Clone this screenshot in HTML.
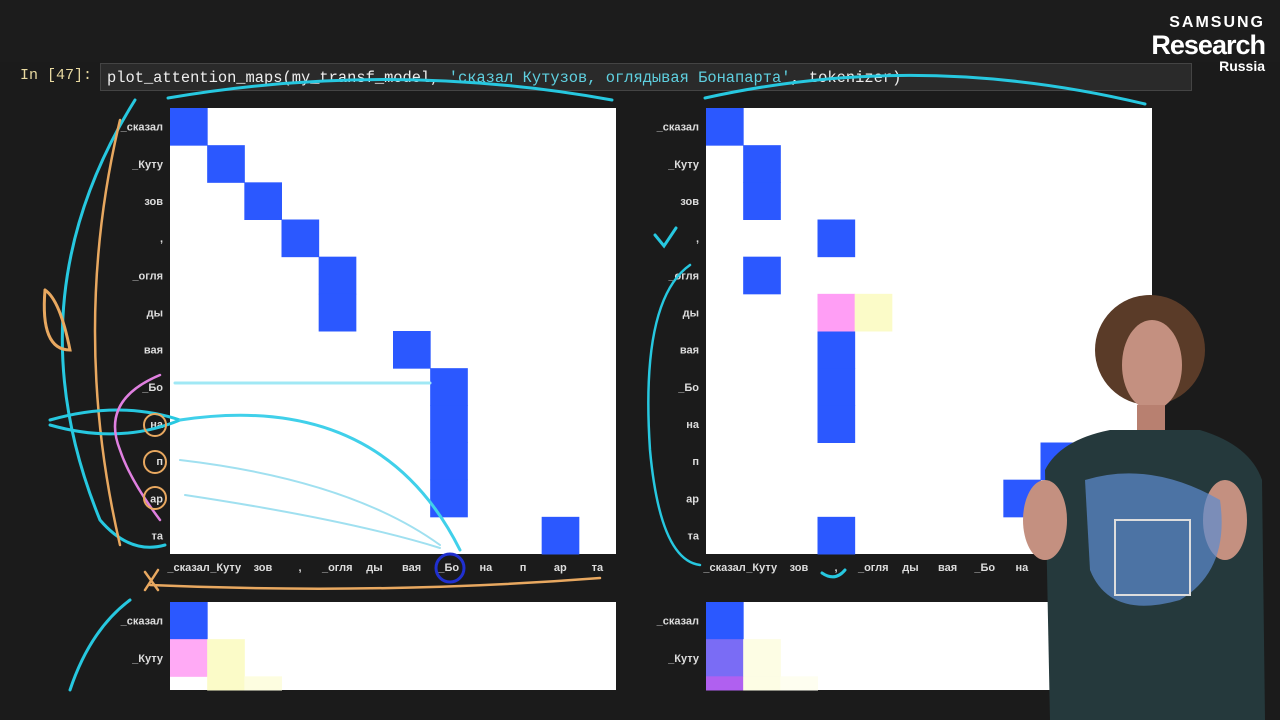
<!DOCTYPE html>
<html><head><meta charset="utf-8"><style>
body{margin:0;width:1280px;height:720px;background:#1b1b1b;overflow:hidden;position:relative;font-family:"Liberation Mono",monospace}
.abs{position:absolute}
</style></head><body>
<div class="abs" style="left:0;top:0;width:1280px;height:62px;background:#1c1c1c"></div>
<div class="abs" style="left:1140px;top:14px;width:125px;color:#fff;font-family:'Liberation Sans',sans-serif;text-align:right">
<div style="font-size:16px;font-weight:bold;letter-spacing:2px">SAMSUNG</div>
<div style="font-size:27px;font-weight:bold;line-height:26px;letter-spacing:-1px">Research</div>
<div style="font-size:14px;font-weight:bold">Russia</div></div>
<div class="abs" style="left:20px;top:67px;color:#e8d9a0;font-size:15px">In [47]:</div>
<div class="abs" style="left:100px;top:63px;width:1092px;height:28px;background:#2a2a2a;border:1px solid #444;color:#eee;font-size:15.4px;line-height:28px;padding-left:6px;box-sizing:border-box">plot_attention_maps(my_transf_model, <span style="color:#5fd0e0">'сказал Кутузов, оглядывая Бонапарта'</span>, tokenizer)</div>
<svg class="abs" id="chart" style="left:0;top:0" width="1280" height="720" font-family="Liberation Sans, DejaVu Sans, sans-serif"></svg>
<script>
const tokens=["_сказал","_Куту","зов",",","_огля","ды","вая","_Бо","на","п","ар","та"];
const leftCells=[[0,0],[1,1],[2,2],[3,3],[4,4],[5,4],[6,6],[7,7],[8,7],[9,7],[10,7],[11,10]];
const rightCells=[[0,0],[1,1],[2,1],[3,3],[4,1],[6,3],[7,3],[8,3],[9,9],[10,8],[11,3]];
const rightPink=[[5,3]];
const rightYellow=[[5,4]];
const bl1Cells=[[0,0,"#2b58ff"],[1,0,"#ffaaf5"],[1,1,"#fbfbc8"],[2,1,"#fbfbc8"],[2,2,"#fdfde0"]];
const bl2Cells=[[0,0,"#2b58ff"],[1,0,"#7a6cf5"],[1,1,"#fdfde4"],[2,0,"#b060f0"],[2,1,"#fdfde4"],[2,2,"#fefef0"]];
const NS="http://www.w3.org/2000/svg";
const svg=document.getElementById("chart");
function mk(t,a,p){const e=document.createElementNS(NS,t);for(const k in a)e.setAttribute(k,a[k]);(p||svg).appendChild(e);return e;}
function panel(x0,y0,w,h,cells,color,xlabels,rows,name){
  const cs=w/12;
  const bg=mk("rect",{x:x0,y:y0,width:w,height:h,fill:"#fff"});
  
  
  cells.forEach(c=>{const r=mk("rect",{x:x0+c[1]*cs,y:y0+c[0]*cs,width:cs+0.5,height:Math.min(cs,h-c[0]*cs)+0.5,fill:c[2]||color});
    
    });
  for(let i=0;i<rows;i++){const t=mk("text",{x:x0-7,y:y0+i*cs+cs/2+4,"text-anchor":"end","font-size":11,"font-weight":"bold",fill:"#ddd"});t.textContent=tokens[i];
    
    }
  if(xlabels)for(let i=0;i<12;i++){const t=mk("text",{x:x0+i*cs+cs/2,y:y0+h+17,"text-anchor":"middle","font-size":11,"font-weight":"bold",fill:"#ddd"});t.textContent=tokens[i];
    
    }
}
panel(170,108,446,446,leftCells,"#2b58ff",true,12,"left-map");
panel(706,108,446,446,rightCells.concat(rightPink.map(c=>[c[0],c[1],"#ff9ef5"]),rightYellow.map(c=>[c[0],c[1],"#fbfbc8"])),"#2b58ff",true,12,"right-map");
panel(170,602,446,88,bl1Cells,"#2b58ff",false,2,"bottom-left-map");
panel(706,602,446,88,bl2Cells,"#2b58ff",false,2,"bottom-right-map");
</script>
<svg class="abs" style="left:0;top:0" width="1280" height="720" fill="none" stroke-linecap="round">
<path d="M168 98 Q390 60 612 100" stroke="#27c8e0" stroke-width="3"/>
<path d="M705 98 Q920 50 1145 104" stroke="#27c8e0" stroke-width="3"/>
<path d="M135 100 Q10 300 100 520 Q130 555 165 545" stroke="#27c8e0" stroke-width="3"/>
<path d="M120 120 Q70 330 120 545" stroke="#e8a860" stroke-width="2.5"/>
<path d="M45 290 Q40 350 70 350 Q60 300 45 290" stroke="#e8a860" stroke-width="3"/>
<path d="M50 420 Q120 400 180 420 Q120 445 50 425" stroke="#27c8e0" stroke-width="3"/>
<path d="M160 375 Q100 400 120 450 Q130 480 160 520" stroke="#e080e0" stroke-width="2.5"/>
<path d="M175 383 L430 383" stroke="#a0e8f5" stroke-width="3"/>
<path d="M180 420 Q380 390 460 550" stroke="#40d0ea" stroke-width="3"/>
<path d="M180 460 Q350 480 440 545" stroke="#a0e0f0" stroke-width="2"/>
<path d="M185 495 Q350 520 440 548" stroke="#a0e0f0" stroke-width="2"/>
<circle cx="450" cy="568" r="14" stroke="#2030d0" stroke-width="3"/>
<path d="M150 585 Q380 595 600 578" stroke="#e8a860" stroke-width="2.5"/>
<path d="M145 572 L158 590 M145 590 L158 570" stroke="#e8a860" stroke-width="2.5"/>
<path d="M130 600 Q90 630 70 690" stroke="#27c8e0" stroke-width="3"/>
<path d="M655 235 L664 246 L676 228" stroke="#27c8e0" stroke-width="3"/>
<path d="M690 265 Q640 300 650 450 Q660 560 700 565" stroke="#27c8e0" stroke-width="2.5"/>
<path d="M822 573 Q835 582 845 570" stroke="#27c8e0" stroke-width="3"/>
<circle cx="155" cy="425" r="11" stroke="#e8a860" stroke-width="2"/>
<circle cx="155" cy="462" r="11" stroke="#e8a860" stroke-width="2"/>
<circle cx="155" cy="498" r="11" stroke="#e8a860" stroke-width="2"/>
</svg>
<svg class="abs" style="left:0;top:0" width="1280" height="720">
<path d="M1050 720 L1045 470 Q1060 440 1110 430 L1200 430 Q1250 445 1262 480 L1265 720 Z" fill="#25393c"/>
<ellipse cx="1150" cy="350" rx="55" ry="55" fill="#5a3b28"/>
<ellipse cx="1152" cy="365" rx="30" ry="45" fill="#c49080"/>
<rect x="1137" y="405" width="28" height="25" fill="#b88070"/>
<ellipse cx="1045" cy="520" rx="22" ry="40" fill="#c49080"/>
<ellipse cx="1225" cy="520" rx="22" ry="40" fill="#c49080"/>
<path d="M1085 480 Q1150 460 1220 500 Q1230 570 1180 600 Q1110 620 1090 570 Z" fill="#5c8bd0" opacity="0.7"/>
<rect x="1115" y="520" width="75" height="75" fill="none" stroke="#ddd" stroke-width="2"/>
</svg>
</body></html>
